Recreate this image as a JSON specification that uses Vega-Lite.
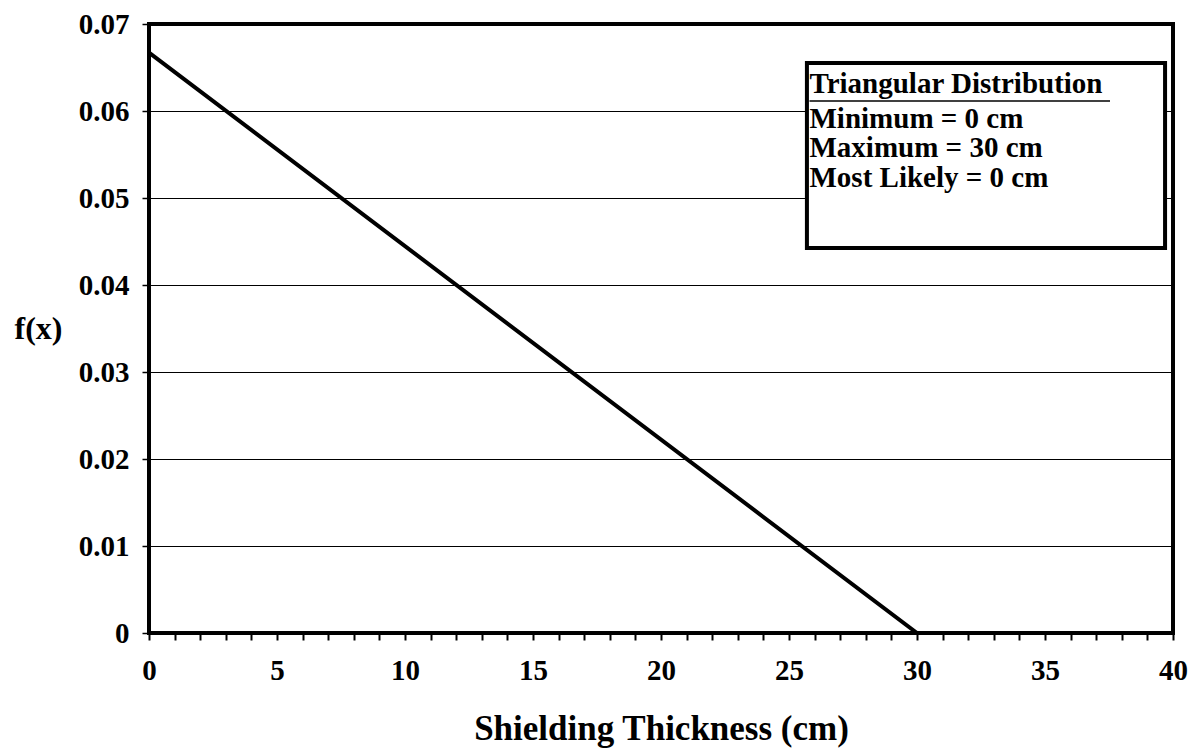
{
  "$schema": "https://vega.github.io/schema/vega-lite/v6.json",
  "width": 1024,
  "height": 609,
  "autosize": "none",
  "padding": {"left": 149, "top": 24, "right": 19, "bottom": 118},
  "background": "white",
  "config": {
    "font": "Liberation Serif",
    "view": {"stroke": "black", "strokeWidth": 4},
    "axis": {"labelFont": "Liberation Serif", "titleFont": "Liberation Serif", "labelColor": "black", "titleColor": "black", "labelFontWeight": "bold", "titleFontWeight": "bold", "tickColor": "black", "domain": false}
  },
  "datasets": {
    "curve": [
      {"x": 0, "fx": 0.0667},
      {"x": 30, "fx": 0},
      {"x": 40, "fx": 0}
    ],
    "box": [
      {"x1": 25.7, "x2": 39.69, "y1": 0.04425, "y2": 0.06552}
    ],
    "legendText": [
      {"label": "Triangular Distribution", "x": 25.8, "y": 0.06207},
      {"label": "Minimum = 0 cm", "x": 25.8, "y": 0.05805},
      {"label": "Maximum = 30 cm", "x": 25.8, "y": 0.05471},
      {"label": "Most Likely = 0 cm", "x": 25.8, "y": 0.05126}
    ],
    "underline": [
      {"x1": 25.8, "x2": 37.54, "y": 0.06115}
    ]
  },
  "layer": [
    {
      "data": {"name": "curve"},
      "mark": {"type": "line", "color": "black", "strokeWidth": 4},
      "encoding": {
        "x": {
          "field": "x", "type": "quantitative",
          "scale": {"domain": [0, 40], "nice": false},
          "axis": {
            "title": "Shielding Thickness (cm)",
            "values": [0,1,2,3,4,5,6,7,8,9,10,11,12,13,14,15,16,17,18,19,20,21,22,23,24,25,26,27,28,29,30,31,32,33,34,35,36,37,38,39,40],
            "tickCount": 100,
            "format": "d",
            "labelExpr": "datum.value % 5 == 0 ? datum.label : ''",
            "grid": false,
            "tickSize": 7,
            "tickWidth": 2,
            "labelFontSize": 29,
            "labelPadding": 16,
            "labelFlush": false,
            "labelOverlap": false,
            "titleFontSize": 35,
            "titlePadding": 26
          }
        },
        "y": {
          "field": "fx", "type": "quantitative",
          "scale": {"domain": [0, 0.07], "nice": false},
          "axis": {
            "title": "f(x)",
            "values": [0, 0.01, 0.02, 0.03, 0.04, 0.05, 0.06, 0.07],
            "format": ".2~f",
            "grid": true,
            "gridColor": "black",
            "gridWidth": 1,
            "gridOpacity": 1,
            "tickSize": 7,
            "tickWidth": 1.5,
            "labelFontSize": 29,
            "labelPadding": 13,
            "labelFlush": false,
            "titleFontSize": 32,
            "titleAngle": 0,
            "titleAlign": "center",
            "titleBaseline": "middle",
            "titleX": -111,
            "titleY": 304
          }
        }
      }
    },
    {
      "data": {"name": "box"},
      "mark": {"type": "rect", "fill": "white", "stroke": "black", "strokeWidth": 4},
      "encoding": {
        "x": {"field": "x1", "type": "quantitative"},
        "x2": {"field": "x2"},
        "y": {"field": "y1", "type": "quantitative"},
        "y2": {"field": "y2"}
      }
    },
    {
      "data": {"name": "legendText"},
      "mark": {"type": "text", "align": "left", "baseline": "alphabetic", "fontSize": 29, "fontWeight": "bold", "font": "Liberation Serif", "color": "black"},
      "encoding": {
        "x": {"field": "x", "type": "quantitative"},
        "y": {"field": "y", "type": "quantitative"},
        "text": {"field": "label"}
      }
    },
    {
      "data": {"name": "underline"},
      "mark": {"type": "rule", "color": "black", "strokeWidth": 1.5},
      "encoding": {
        "x": {"field": "x1", "type": "quantitative"},
        "x2": {"field": "x2"},
        "y": {"field": "y", "type": "quantitative"}
      }
    }
  ]
}
